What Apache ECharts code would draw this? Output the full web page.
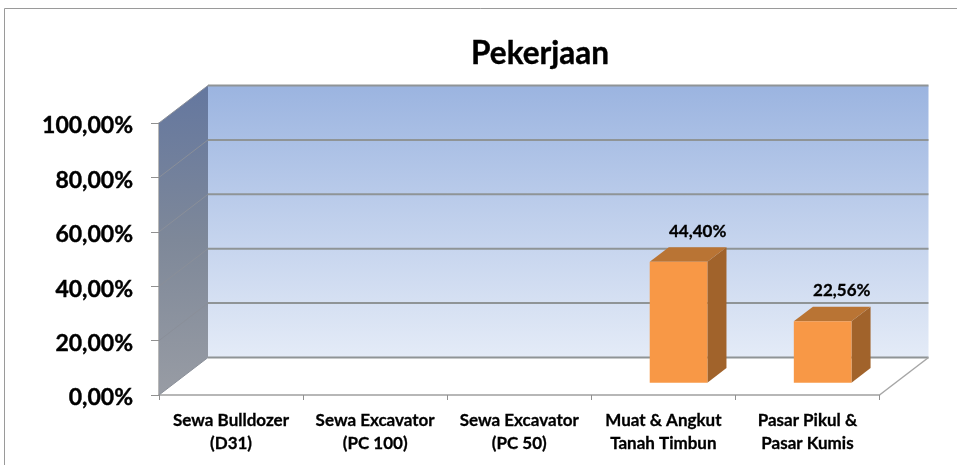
<!DOCTYPE html>
<html>
<head>
<meta charset="utf-8">
<title>Pekerjaan</title>
<script src="https://cdn.jsdelivr.net/npm/echarts@6/dist/echarts.min.js"></script>
<style>
html, body { margin: 0; padding: 0; background: #fff; }
#chart { width: 957px; height: 465px; }
</style>
</head>
<body>
<div id="chart"></div>
<script>
const chartTitle = "Pekerjaan";
const categories = [
  "Sewa Bulldozer\n(D31)",
  "Sewa Excavator\n(PC 100)",
  "Sewa Excavator\n(PC 50)",
  "Muat & Angkut\nTanah Timbun",
  "Pasar Pikul &\nPasar Kumis"
];
const values = [0, 0, 0, 44.40, 22.56];
const yTicks = [0, 20, 40, 60, 80, 100];

const fontName = "Lato";
// 3d look: how far the back wall sits from the front plane
const depthX = 49;
const depthY = -37.5;

function percent(v) {
  return v.toFixed(2).replace(".", ",") + "%";
}

let chart = echarts.init(document.getElementById("chart"), null, { renderer: "canvas" });

function renderWalls(params, api) {
  let band = api.size([1, 0])[0];
  let left = api.coord([0, 0])[0] - band / 2;
  let right = api.coord([categories.length - 1, 0])[0] + band / 2;
  let y0 = api.coord([0, 0])[1];
  let y100 = api.coord([0, 100])[1];
  let lineColor = "#8f9496";
  let children = [];

  // back wall
  children.push({
    type: "rect",
    shape: { x: left + depthX, y: y100 + depthY, width: right - left, height: y0 - y100 },
    style: {
      fill: new echarts.graphic.LinearGradient(0, 0, 0, 1, [
        { offset: 0, color: "#9bb4e0" },
        { offset: 0.5, color: "#c0d0ec" },
        { offset: 1, color: "#e4ebf7" }
      ])
    }
  });
  // side wall
  children.push({
    type: "polygon",
    shape: { points: [[left, y100], [left + depthX, y100 + depthY], [left + depthX, y0 + depthY], [left, y0]] },
    style: {
      fill: new echarts.graphic.LinearGradient(0, 0, 0, 1, [
        { offset: 0, color: "#64779f" },
        { offset: 0.5, color: "#7e8899" },
        { offset: 1, color: "#989ca4" }
      ])
    }
  });
  // grid lines on both walls
  yTicks.forEach(t => {
    let y = api.coord([0, t])[1];
    children.push({
      type: "line",
      shape: { x1: left + depthX, y1: y + depthY, x2: right + depthX, y2: y + depthY },
      style: { stroke: lineColor, lineWidth: 2 }
    });
    children.push({
      type: "line",
      shape: { x1: left, y1: y, x2: left + depthX, y2: y + depthY },
      style: { stroke: "#8a8f99", lineWidth: 1 }
    });
  });
  // floor right edge
  children.push({
    type: "line",
    shape: { x1: right, y1: y0, x2: right + depthX, y2: y0 + depthY },
    style: { stroke: "#a6a6a6", lineWidth: 1.5 }
  });
  return { type: "group", children: children };
}

function renderBar(params, api) {
  let v = api.value(1);
  if (!v) return null;
  let base = api.coord([api.value(0), 0]);
  let top = api.coord([api.value(0), v]);
  let w = api.size([1, 0])[0] * 0.4;
  // bar stands a third of the way into the floor
  let x = base[0] + depthX * 0.31 - w / 2;
  let yb = base[1] + depthY * 0.33;
  let yt = top[1] + depthY * 0.33;
  let dx = depthX * 0.39;
  let dy = depthY * 0.39;
  return {
    type: "group",
    children: [
      {
        type: "polygon",
        shape: { points: [[x + w, yt], [x + w + dx, yt + dy], [x + w + dx, yb + dy], [x + w, yb]] },
        style: { fill: "#a1632b" }
      },
      {
        type: "polygon",
        shape: { points: [[x, yt], [x + dx, yt + dy], [x + w + dx, yt + dy], [x + w, yt]] },
        style: { fill: "#b97434" }
      },
      {
        type: "rect",
        shape: { x: x, y: yt, width: w, height: yb - yt },
        style: { fill: "#f89846" }
      },
      {
        type: "text",
        style: {
          text: percent(v),
          x: x + w / 2 + dx,
          y: yt + dy - 16,
          align: "center",
          verticalAlign: "middle",
          fill: "#000",
          font: "bold 17px " + fontName,
          stroke: "#000",
          lineWidth: 0.3
        }
      }
    ]
  };
}

let option = {
  backgroundColor: "#fff",
  animation: false,
  title: {
    text: chartTitle,
    left: 535,
    top: 33,
    textAlign: "center",
    textStyle: {
      color: "#000",
      fontSize: 31.5,
      fontWeight: "bold",
      fontFamily: fontName,
      textBorderColor: "#000",
      textBorderWidth: 0.4
    }
  },
  grid: { left: 159, right: 77.5, top: 123, bottom: 70 },
  xAxis: {
    type: "category",
    data: categories,
    axisLine: { lineStyle: { color: "#a0a0a0", width: 1.5 } },
    axisTick: { show: true, alignWithLabel: false, length: 5, lineStyle: { color: "#909090" } },
    axisLabel: {
      interval: 0,
      margin: 14,
      color: "#000",
      fontSize: 17,
      fontWeight: "bold",
      fontFamily: fontName,
      lineHeight: 23,
      textBorderColor: "#000",
      textBorderWidth: 0.3
    },
    splitLine: { show: false }
  },
  yAxis: {
    type: "value",
    min: 0,
    max: 100,
    interval: 20,
    axisLine: { show: true, lineStyle: { color: "#a0a0a0", width: 1.5 } },
    axisTick: { show: true, length: 8, lineStyle: { color: "#909090" } },
    axisLabel: {
      margin: 26,
      formatter: v => "{a|" + percent(v) + "}",
      rich: {
        a: {
          color: "#000",
          fontSize: 23,
          fontWeight: "bold",
          fontFamily: fontName,
          padding: [6, 0, 0, 0],
          textBorderColor: "#000",
          textBorderWidth: 0.4
        }
      }
    },
    splitLine: { show: false }
  },
  series: [
    {
      type: "custom",
      z: 1,
      silent: true,
      clip: false,
      data: [[0, 0]],
      encode: { x: 0, y: 1 },
      renderItem: renderWalls
    },
    {
      type: "custom",
      z: 3,
      clip: false,
      data: values.map((v, i) => [i, v]),
      encode: { x: 0, y: 1 },
      renderItem: renderBar
    }
  ],
  graphic: [
    {
      type: "polyline",
      silent: true,
      shape: { points: [[4.5, 465], [4.5, 8.5], [957, 8.5]] },
      style: { stroke: "#9a9a9a", lineWidth: 1, fill: null }
    }
  ]
};
chart.setOption(option);
</script>
</body>
</html>
